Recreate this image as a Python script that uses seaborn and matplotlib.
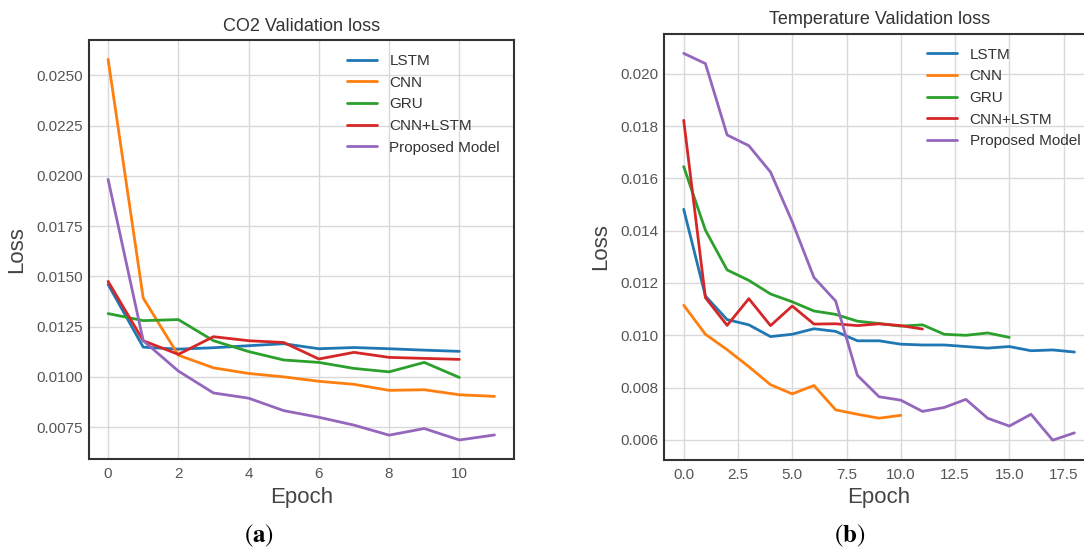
import numpy as np
import pandas as pd
import matplotlib
matplotlib.use("Agg")
import matplotlib.pyplot as plt
import seaborn as sns

# ---- CO2 validation loss per epoch ----
co2_lstm = [0.0146, 0.01148, 0.01138, 0.01145, 0.01155, 0.01165, 0.0114, 0.01146, 0.0114, 0.01133, 0.01127]
co2_cnn = [0.0258, 0.01392, 0.01108, 0.01045, 0.01017, 0.0100, 0.00978, 0.00963, 0.00933, 0.00936, 0.00911, 0.00903]
co2_gru = [0.01315, 0.0128, 0.01285, 0.0118, 0.01126, 0.01084, 0.01072, 0.01042, 0.01025, 0.01072, 0.00997]
co2_cnn_lstm = [0.01475, 0.0118, 0.01112, 0.0120, 0.0118, 0.01171, 0.01089, 0.01122, 0.01097, 0.01092, 0.01087]
co2_proposed = [0.01983, 0.0118, 0.01029, 0.0092, 0.00894, 0.00832, 0.00799, 0.0076, 0.0071, 0.00743, 0.00686, 0.00711]

# ---- Temperature validation loss per epoch ----
temp_lstm = [0.01482, 0.0115, 0.0106, 0.0104, 0.00995, 0.01004, 0.01025, 0.01015, 0.00979, 0.00979,
             0.00966, 0.00963, 0.00963, 0.00957, 0.00951, 0.00957, 0.00941, 0.00944, 0.00936]
temp_cnn = [0.01115, 0.01004, 0.00945, 0.0088, 0.00811, 0.00776, 0.00808, 0.00715, 0.00698, 0.00683, 0.00694]
temp_gru = [0.01645, 0.01402, 0.0125, 0.0121, 0.01158, 0.01128, 0.01093, 0.0108, 0.01054, 0.01045,
            0.01035, 0.0104, 0.01004, 0.0100, 0.01009, 0.00992]
temp_cnn_lstm = [0.01822, 0.01144, 0.01038, 0.0114, 0.01037, 0.01112, 0.01043, 0.01044, 0.01037, 0.01044,
                 0.01037, 0.01024]
temp_proposed = [0.02078, 0.02039, 0.01766, 0.01725, 0.01624, 0.01434, 0.01221, 0.01131, 0.00847, 0.00765,
                 0.00752, 0.00709, 0.00724, 0.00755, 0.00683, 0.00653, 0.00698, 0.00599, 0.00627]

model_names = ["LSTM", "CNN", "GRU", "CNN+LSTM", "Proposed Model"]
model_colors = ["#1f77b4", "#ff7f0e", "#2ca02c", "#d62728", "#9467bd"]

panel_titles = ["CO2 Validation loss", "Temperature Validation loss"]
panel_tags = ["a", "b"]


def to_long(series_list):
    rows = []
    for name, vals in zip(model_names, series_list):
        for ep, v in enumerate(vals):
            rows.append({"Epoch": ep, "Loss": v, "Model": name})
    return pd.DataFrame(rows)


co2_df = to_long([co2_lstm, co2_cnn, co2_gru, co2_cnn_lstm, co2_proposed])
temp_df = to_long([temp_lstm, temp_cnn, temp_gru, temp_cnn_lstm, temp_proposed])

sns.set_style("whitegrid")
plt.rcParams.update({
    "font.family": ["Liberation Sans", "DejaVu Sans"],
    "axes.edgecolor": "#333333",
    "axes.linewidth": 1.5,
    "grid.color": "#d9d9d9",
    "grid.linewidth": 1.0,
    "text.color": "#333333",
    "axes.labelcolor": "#444444",
    "xtick.color": "#555555",
    "ytick.color": "#555555",
    "xtick.major.size": 0,
    "ytick.major.size": 0,
    "mathtext.fontset": "stix",
})

fig = plt.figure(figsize=(10.84, 5.49), dpi=100)
ax_a = fig.add_axes([0.0819, 0.1639, 0.3921, 0.7627])
ax_b = fig.add_axes([0.6127, 0.163, 0.3965, 0.775])

for ax, df, title in zip([ax_a, ax_b], [co2_df, temp_df], panel_titles):
    sns.lineplot(data=df, x="Epoch", y="Loss", hue="Model", hue_order=model_names,
                 palette=model_colors, linewidth=2.0, ax=ax, errorbar=None)
    ax.set_title(title, fontsize=13, color="#333333", pad=7)
    ax.set_xlabel("Epoch", fontsize=16, labelpad=4)
    ax.set_ylabel("Loss", fontsize=16, labelpad=7)
    ax.tick_params(axis="both", labelsize=11)
    ax.tick_params(axis="x", pad=6)
    ax.tick_params(axis="y", pad=4)
    handles, labels = ax.get_legend_handles_labels()
    ax.legend(handles, labels, loc="upper right", frameon=False, fontsize=11)
    for s in ax.spines.values():
        s.set_visible(True)
        s.set_color("#333333")

# Sub-figure tags under each panel
for xc, tag in zip([0.2389, 0.7837], panel_tags):
    fig.text(xc, 0.012, r"$(\mathbf{" + tag + r"})$", fontsize=18, color="black",
             ha="center", va="baseline")

fig.savefig("out.png", dpi=100)
